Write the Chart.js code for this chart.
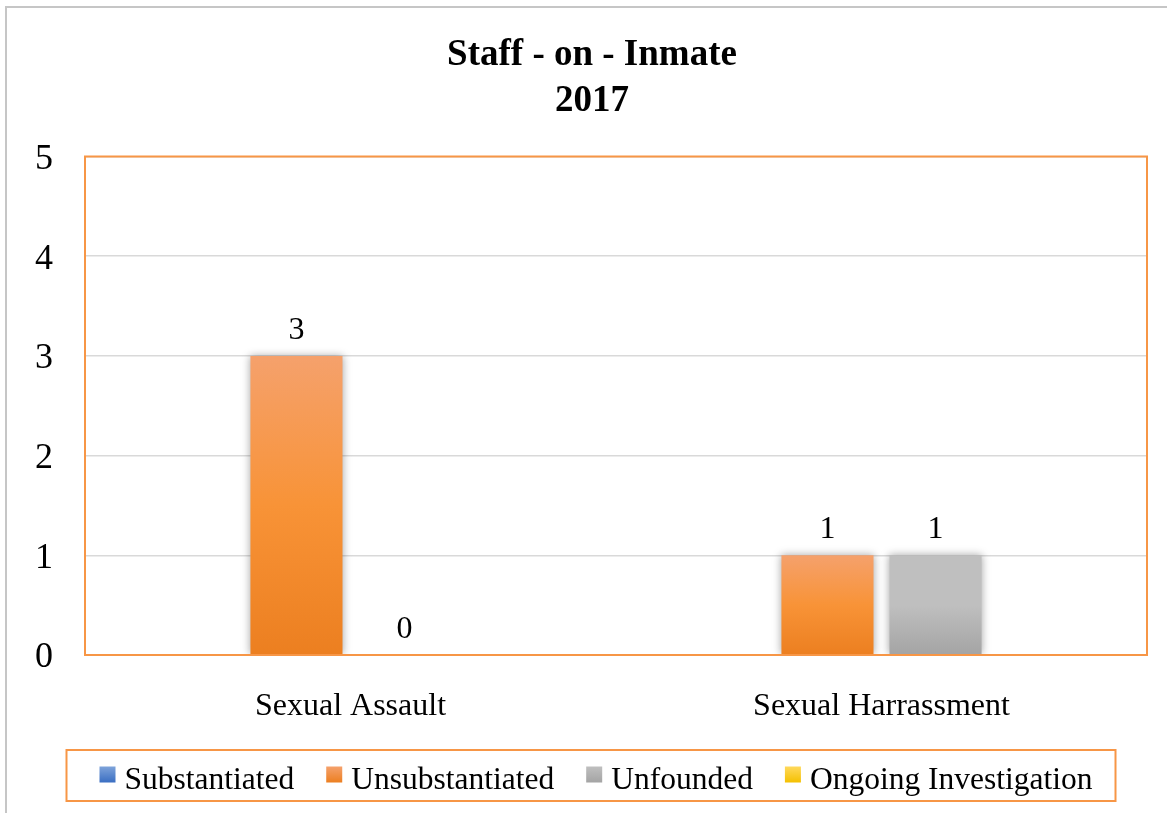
<!DOCTYPE html>
<html>
<head>
<meta charset="utf-8">
<script src="https://cdn.jsdelivr.net/npm/chart.js@4.4.0/dist/chart.umd.min.js"></script>
<style>
  html, body { margin: 0; padding: 0; background: #fff; overflow: hidden; }
  #frame { position: absolute; left: 5px; top: 6px; width: 1172px; height: 832px;
           border-left: 2px solid #c6c6c6; border-top: 2px solid #c6c6c6; }
  #chart { display: block; }
</style>
</head>
<body>
<div id="frame"><canvas id="chart" width="1170" height="830"></canvas></div>
<script>
//chart data
const categories = ["Sexual Assault", "Sexual Harrassment"];
const substantiated = [null, null];
const unsubstantiated = [3, 1];
const unfounded = [0, 1];
const ongoing = [null, null];
const yTicks = [0, 1, 2, 3, 4, 5];

//colour pairs: [top, bottom] of the bar gradient
const COLORS = {
  Substantiated: ["#7ea3da", "#3a6ec2"],
  Unsubstantiated: ["#f5a16c", "#ec7f20"],
  Unfounded: ["#bfbfbf", "#a4a4a4"],
  "Ongoing Investigation": ["#ffd95c", "#f4c000"]
};

const FONT = "'Liberation Serif', 'Times New Roman', serif";

function barGradient(name) {
  return function (context) {
    const chart = context.chart;
    const y = chart.scales.y;
    if (!y || context.raw === null || context.raw === undefined) return COLORS[name][1];
    const top = y.getPixelForValue(context.raw);
    const bottom = y.getPixelForValue(0);
    if (!isFinite(top) || bottom - top < 1) return COLORS[name][1];
    const g = chart.ctx.createLinearGradient(0, top, 0, bottom);
    g.addColorStop(0, COLORS[name][0]);
    g.addColorStop(0.5, name === "Unsubstantiated" ? "#f89337" : COLORS[name][0]);
    g.addColorStop(1, COLORS[name][1]);
    return g;
  };
}

function makeDataset(name, values) {
  return {
    label: name,
    data: values,
    backgroundColor: barGradient(name),
    borderWidth: 0,
    categoryPercentage: 0.814,
    barPercentage: 0.852
  };
}

//shadows, plot frame, value labels and the boxed legend
const decorations = {
  id: "decorations",
  beforeDatasetsDraw(chart) {
    const ctx = chart.ctx;
    ctx.save();
    ctx.shadowColor = "rgba(0,0,0,0.35)";
    ctx.shadowBlur = 8;
  },
  afterDatasetsDraw(chart) {
    const ctx = chart.ctx;
    ctx.restore();
    const a = chart.chartArea;

    //orange frame round the plot area
    ctx.save();
    ctx.strokeStyle = "#f79646";
    ctx.lineWidth = 2;
    ctx.strokeRect(a.left, a.top, a.right - a.left, a.bottom - a.top);

    //value labels
    ctx.fillStyle = "#000";
    ctx.font = "32px " + FONT;
    ctx.textAlign = "center";
    ctx.textBaseline = "alphabetic";
    chart.data.datasets.forEach((ds, i) => {
      const meta = chart.getDatasetMeta(i);
      meta.data.forEach((el, j) => {
        const v = ds.data[j];
        if (v === null || v === undefined) return;
        ctx.fillText(String(v), el.x, el.y - 17);
      });
    });
    ctx.restore();
  },
  afterDraw(chart) {
    const ctx = chart.ctx;
    ctx.save();
    ctx.font = "31.5px " + FONT;
    const box = 16, gapText = 9, gapItem = 32;
    const names = chart.data.datasets.map((d) => d.label);
    const widths = names.map((n) => ctx.measureText(n).width);
    let total = 0;
    widths.forEach((w, i) => { total += box + gapText + w + (i < widths.length - 1 ? gapItem : 0); });
    const padL = 33, padR = 23;
    const boxW = total + padL + padR;
    const center = chart.width / 2 - 1;
    const left = center - boxW / 2;
    const top = 742;
    const h = 51;
    ctx.strokeStyle = "#f79646";
    ctx.lineWidth = 2;
    ctx.strokeRect(left, top, boxW, h);
    let x = left + padL;
    const mid = top + h / 2;
    names.forEach((n, i) => {
      const g = ctx.createLinearGradient(0, mid - 9, 0, mid + 7);
      g.addColorStop(0, COLORS[n][0]);
      g.addColorStop(1, COLORS[n][1]);
      ctx.fillStyle = g;
      ctx.fillRect(x, mid - 9, box, box);
      ctx.fillStyle = "#000";
      ctx.textAlign = "left";
      ctx.textBaseline = "alphabetic";
      ctx.fillText(n, x + box + gapText, mid + 13);
      x += box + gapText + widths[i] + gapItem;
    });
    ctx.restore();
  }
};

const ctx = document.getElementById("chart").getContext("2d");
new Chart(ctx, {
  type: "bar",
  data: {
    labels: categories,
    datasets: [
      makeDataset("Substantiated", substantiated),
      makeDataset("Unsubstantiated", unsubstantiated),
      makeDataset("Unfounded", unfounded),
      makeDataset("Ongoing Investigation", ongoing)
    ]
  },
  options: {
    responsive: false,
    animation: false,
    layout: { padding: { left: 0, right: 0, top: 0, bottom: 116 } },
    plugins: {
      legend: { display: false },
      tooltip: { enabled: false },
      title: {
        display: true,
        text: ["Staff - on - Inmate", "2017"],
        color: "#000",
        font: { family: FONT, size: 37, weight: "bold", lineHeight: 1.25 },
        padding: { top: 24, bottom: 32 }
      }
    },
    scales: {
      x: {
        grid: { display: false },
        border: { display: false },
        afterFit(scale) {
          scale.height = 67;
        },
        ticks: { color: "#000", font: { family: FONT, size: 32 }, padding: 24 }
      },
      y: {
        min: 0,
        max: 5,
        afterBuildTicks(scale) {
          scale.ticks = yTicks.map((v) => ({ value: v }));
        },
        afterFit(scale) {
          scale.width = 78;
        },
        grid: { color: "#d9d9d9", lineWidth: 1.5, drawTicks: false },
        border: { display: false },
        ticks: { color: "#000", font: { family: FONT, size: 36 }, padding: 32, labelOffset: 3 }
      },
      //empty right-hand strip so the plot stops short of the canvas edge
      spacer: {
        type: "linear",
        position: "right",
        display: true,
        grid: { display: false },
        border: { display: false },
        ticks: { display: false },
        afterFit(scale) {
          scale.width = 30;
        }
      }
    }
  },
  plugins: [decorations]
});
</script>
</body>
</html>
